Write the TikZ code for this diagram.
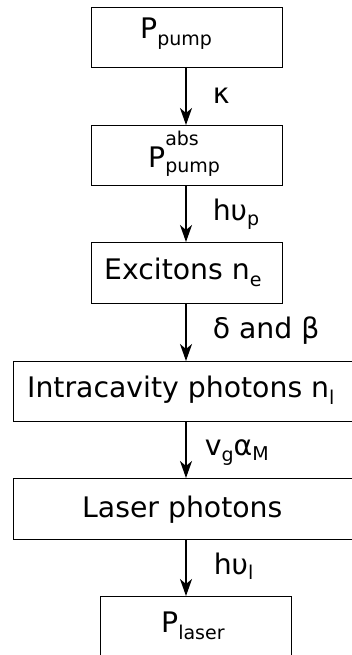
\documentclass[tikz,border=0pt]{standalone}
\usepackage{fontspec}
\setmainfont{DejaVu Sans}
\usetikzlibrary{arrows.meta}
\newcommand{\mysub}[2][7pt]{\raisebox{-#1}{\fontsize{19}{19}\selectfont #2}}
\newcommand{\mysup}[1]{\raisebox{22pt}{\fontsize{19}{19}\selectfont #1}}
\begin{document}
\begin{tikzpicture}[x=1pt,y=-1pt,
  box/.style={draw, line width=0.9pt, inner sep=0pt, outer sep=0pt},
  txt/.style={anchor=base west, inner sep=0pt, font=\fontsize{28.3}{28.3}\selectfont},
  arr/.style={line width=1.6pt, -{Stealth[length=17pt,width=12pt,inset=5pt]}}]
\useasboundingbox (0,0) rectangle (351,655);
% boxes
\node[box, minimum width=191pt, minimum height=60pt] (b1) at (186.5,37) {};
\node[box, minimum width=191pt, minimum height=60pt] (b2) at (186.5,155) {};
\node[box, minimum width=191pt, minimum height=61pt] (b3) at (186.5,272.5) {};
\node[box, minimum width=347pt, minimum height=60pt] (b4) at (186.5,391) {};
\node[box, minimum width=347pt, minimum height=61pt] (b5) at (186.5,508.5) {};
\node[box, minimum width=191pt, minimum height=70pt] (b6) at (195.5,631) {};
\coordinate (ax) at (186,0);
% texts
\node[txt] (t1) at (140,38.5) {P\mysub{pump}};
\node[txt] (t2) at (148,167.5) {P\rlap{\mysup{abs}}\mysub[5pt]{pump}};
\node[txt] (t3) at (104,279) {Excitons n\mysub{e}};
\node[txt] (t4) at (27,397) {Intracavity photons n\mysub{l}};
\node[txt] (t5) at (82,517) {Laser photons};
\node[txt] (t6) at (161,632) {P\mysub{laser}};
% arrows
\draw[arr] (b1.south -| ax) -- (b2.north -| ax) node[txt, pos=0.5, xshift=26pt, yshift=-8pt] (l1) {κ};
\draw[arr] (b2.south -| ax) -- (b3.north -| ax) node[txt, pos=0.5, xshift=26pt, yshift=-6.5pt] (l2) {hυ\mysub[5pt]{p}};
\draw[arr] (b3.south -| ax) -- (b4.north -| ax) node[txt, pos=0.5, xshift=26pt, yshift=-6pt] (l3) {δ and β};
\draw[arr] (b4.south -| ax) -- (b5.north -| ax) node[txt, pos=0.5, xshift=18pt, yshift=-5.5pt] (l4) {v\mysub[6pt]{g}α\mysub[5pt]{M}};
\draw[arr] (b5.south -| ax) -- (b6.north -| ax) node[txt, pos=0.5, xshift=27pt, yshift=-6.5pt] (l5) {hυ\mysub[5pt]{l}};
\end{tikzpicture}
\end{document}
